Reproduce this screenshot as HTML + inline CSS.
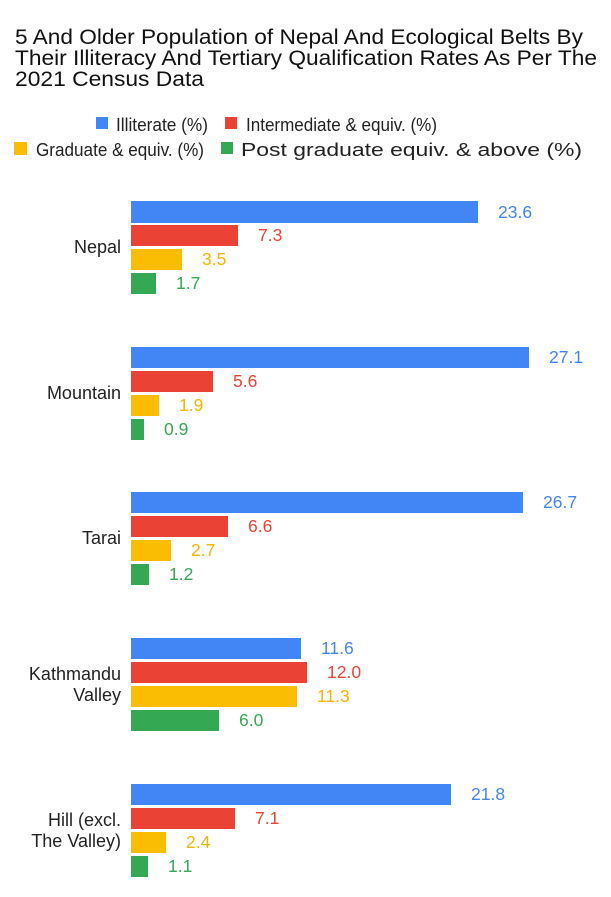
<!DOCTYPE html>
<html><head><meta charset="utf-8"><style>
html,body{margin:0;padding:0;background:#fff;}
svg{display:block;font-family:"Liberation Sans",Arial,sans-serif;}
</style></head><body>
<svg width="611" height="897" viewBox="0 0 611 897" xmlns="http://www.w3.org/2000/svg">
<rect width="611" height="897" fill="#fff"/>
<g font-size="21" fill="#111">
<text x="15" y="44" textLength="568" lengthAdjust="spacingAndGlyphs">5 And Older Population of Nepal And Ecological Belts By</text>
<text x="15" y="65" textLength="582" lengthAdjust="spacingAndGlyphs">Their Illiteracy And Tertiary Qualification Rates As Per The</text>
<text x="15" y="86" textLength="189" lengthAdjust="spacingAndGlyphs">2021 Census Data</text>
</g>
<g font-size="18" fill="#222">
<rect x="96" y="117" width="12" height="12" fill="#4285f4"/>
<text x="116" y="131" textLength="92" lengthAdjust="spacingAndGlyphs">Illiterate (%)</text>
<rect x="225" y="117" width="12" height="12" fill="#ea4335"/>
<text x="246" y="131" textLength="191" lengthAdjust="spacingAndGlyphs">Intermediate &amp; equiv. (%)</text>
<rect x="14" y="142" width="13" height="13" fill="#fbbc04"/>
<text x="36" y="156" textLength="168" lengthAdjust="spacingAndGlyphs">Graduate &amp; equiv. (%)</text>
<rect x="221" y="142" width="12" height="12" fill="#34a853"/>
<text x="241" y="156" textLength="341" lengthAdjust="spacingAndGlyphs">Post graduate equiv. &amp; above (%)</text>
</g>
<g font-size="17.5">
<rect x="131" y="201" width="347" height="22" fill="#4285f4"/><text x="498" y="218" fill="#4285f4">23.6</text>
<rect x="131" y="225" width="107" height="21" fill="#ea4335"/><text x="258" y="241" fill="#ea4335">7.3</text>
<rect x="131" y="249" width="51" height="21" fill="#fbbc04"/><text x="202" y="265" fill="#f4b400">3.5</text>
<rect x="131" y="273" width="25" height="21" fill="#34a853"/><text x="176" y="289" fill="#34a853">1.7</text>
<text x="121" y="253" text-anchor="end" fill="#222" font-size="18">Nepal</text>
<rect x="131" y="347" width="398" height="21" fill="#4285f4"/><text x="549" y="363" fill="#4285f4">27.1</text>
<rect x="131" y="371" width="82" height="21" fill="#ea4335"/><text x="233" y="387" fill="#ea4335">5.6</text>
<rect x="131" y="395" width="28" height="21" fill="#fbbc04"/><text x="179" y="411" fill="#f4b400">1.9</text>
<rect x="131" y="419" width="13" height="21" fill="#34a853"/><text x="164" y="435" fill="#34a853">0.9</text>
<text x="121" y="399" text-anchor="end" fill="#222" font-size="18">Mountain</text>
<rect x="131" y="492" width="392" height="21" fill="#4285f4"/><text x="543" y="508" fill="#4285f4">26.7</text>
<rect x="131" y="516" width="97" height="21" fill="#ea4335"/><text x="248" y="532" fill="#ea4335">6.6</text>
<rect x="131" y="540" width="40" height="21" fill="#fbbc04"/><text x="191" y="556" fill="#f4b400">2.7</text>
<rect x="131" y="564" width="18" height="21" fill="#34a853"/><text x="169" y="580" fill="#34a853">1.2</text>
<text x="121" y="544" text-anchor="end" fill="#222" font-size="18">Tarai</text>
<rect x="131" y="638" width="170" height="21" fill="#4285f4"/><text x="321" y="654" fill="#4285f4">11.6</text>
<rect x="131" y="662" width="176" height="21" fill="#ea4335"/><text x="327" y="678" fill="#ea4335">12.0</text>
<rect x="131" y="686" width="166" height="21" fill="#fbbc04"/><text x="317" y="702" fill="#f4b400">11.3</text>
<rect x="131" y="710" width="88" height="21" fill="#34a853"/><text x="239" y="726" fill="#34a853">6.0</text>
<text x="121" y="680" text-anchor="end" fill="#222" font-size="18">Kathmandu</text>
<text x="121" y="701" text-anchor="end" fill="#222" font-size="18">Valley</text>
<rect x="131" y="784" width="320" height="21" fill="#4285f4"/><text x="471" y="800" fill="#4285f4">21.8</text>
<rect x="131" y="808" width="104" height="21" fill="#ea4335"/><text x="255" y="824" fill="#ea4335">7.1</text>
<rect x="131" y="832" width="35" height="21" fill="#fbbc04"/><text x="186" y="848" fill="#f4b400">2.4</text>
<rect x="131" y="856" width="17" height="21" fill="#34a853"/><text x="168" y="872" fill="#34a853">1.1</text>
<text x="121" y="826" text-anchor="end" fill="#222" font-size="18">Hill (excl.</text>
<text x="121" y="847" text-anchor="end" fill="#222" font-size="18">The Valley)</text>
</g>
</svg>
</body></html>
